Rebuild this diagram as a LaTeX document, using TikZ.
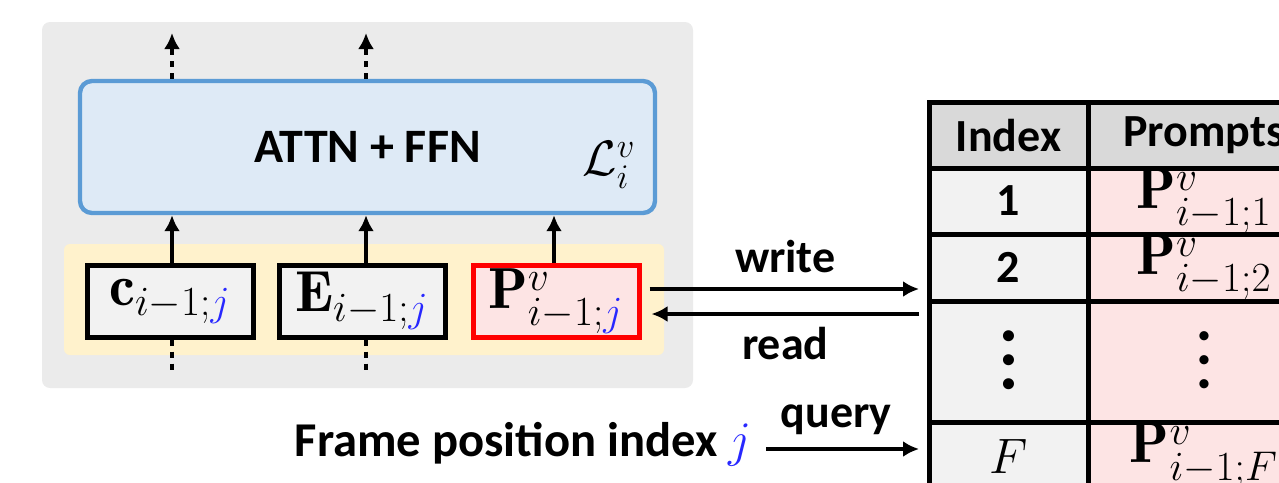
\documentclass[tikz,border=0pt]{standalone}
\usepackage{fontspec}
\setsansfont{Carlito}
\usepackage{amsmath}
\usepackage{xcolor}
\usetikzlibrary{positioning, arrows.meta, calc}

\definecolor{panelgray}{RGB}{235,235,235}
\definecolor{layerblue}{RGB}{91,155,213}
\definecolor{layerfill}{RGB}{222,234,246}
\definecolor{bandyellow}{RGB}{255,242,204}
\definecolor{boxgray}{RGB}{242,242,242}
\definecolor{headgray}{RGB}{217,217,217}
\definecolor{promptpink}{RGB}{253,228,228}
\definecolor{promptred}{RGB}{255,0,0}
\definecolor{jblue}{RGB}{40,40,255}

\newcommand{\jj}{\textcolor{jblue}{j}}
\newcommand{\tabdots}{\vbox{\sffamily\fontsize{13}{12}\selectfont\baselineskip=12pt\lineskiplimit=0pt\hbox{\textbullet}\hbox{\textbullet}\hbox{\textbullet}}}

\begin{document}
\begin{tikzpicture}[
    x=0.5pt, y=-0.5pt,
    >={Latex[length=8pt,width=8pt]},
    boldtext/.style={font=\sffamily\bfseries\fontsize{23}{27}\selectfont},
    mathtext/.style={font=\fontsize{29}{32}\selectfont},
    lbl/.style={boldtext, inner sep=2pt},
    panel/.style={
        rectangle,
        fill=panelgray,
        rounded corners=4pt,
        minimum width=325.5pt,
        minimum height=183pt
    },
    band/.style={
        rectangle,
        fill=bandyellow,
        rounded corners=3pt,
        minimum width=300pt,
        minimum height=55.5pt
    },
    layerbox/.style={
        rectangle,
        draw=layerblue,
        fill=layerfill,
        line width=2.2pt,
        rounded corners=6pt,
        minimum width=287.5pt,
        minimum height=66pt,
        boldtext,
        font=\sffamily\bfseries\fontsize{24}{28}\selectfont
    },
    inbox/.style={
        rectangle,
        draw=black,
        fill=boxgray,
        line width=2.5pt,
        minimum width=83pt,
        minimum height=36pt,
        inner sep=0pt,
        mathtext
    },
    promptbox/.style={inbox, draw=promptred, fill=promptpink},
    cell/.style={
        rectangle,
        draw=black,
        line width=2.5pt,
        outer sep=0pt,
        inner sep=0pt
    },
    idxcell/.style={cell, fill=boxgray, minimum width=79.5pt, boldtext},
    prmcell/.style={cell, fill=promptpink, minimum width=116pt, mathtext},
    flow/.style={->, line width=2.2pt},
    dotflow/.style={line width=2.2pt, dash pattern=on 3pt off 3pt}
]
    \useasboundingbox (0,0) rectangle (1279,482);
    \clip (0,0) rectangle (1279,482);

    % Layer block
    \node[panel] (panel) at (367.5,205) {};
    \node[layerbox] (layer) at (367.5,147) {ATTN + FFN};
    \node[font=\fontsize{23}{25}\selectfont] (lname) at (609,165) {$\mathcal{L}_i^{v}$};

    % Inputs
    \node[band] (band) at (364,299.5) {};
    \node[inbox] (cbox) at (170,301) {$\mathbf{c}_{i-1;\jj}$};
    \node[inbox, right=10.5pt of cbox] (ebox) {$\mathbf{E}_{i-1;\jj}$};
    \node[promptbox, right=11.5pt of ebox] (pbox) {$\mathbf{P}^{v}_{i-1;\jj}$};

    \draw[flow] (cbox.north -| 172,0) -- (layer.south -| 172,0);
    \draw[flow] (ebox.north -| 366,0) -- (layer.south -| 366,0);
    \draw[flow] (pbox.north -| 554,0) -- (layer.south -| 554,0);

    \coordinate (ctop) at (172,33);
    \coordinate (etop) at (366,33);
    \coordinate (cbot) at (172,372);
    \coordinate (ebot) at (366,372);
    \draw[dotflow, ->] (layer.north -| ctop) -- (ctop);
    \draw[dotflow, ->] (layer.north -| etop) -- (etop);
    \draw[dotflow] (cbox.south -| cbot) -- (cbot);
    \draw[dotflow] (ebox.south -| ebot) -- (ebot);

    % Prompt table
    \node[idxcell, fill=headgray, minimum height=32.75pt, anchor=north west] (hidx) at (929,102.5) {Index};
    \node[prmcell, fill=headgray, minimum height=32.75pt, boldtext, right=0pt of hidx] (hprm) {Prompts};
    \node[idxcell, minimum height=33pt, below=0pt of hidx] (idx1) {1};
    \node[prmcell, minimum height=33pt, right=0pt of idx1] (prm1) {$\mathbf{P}^{v}_{i-1;1}$};
    \node[idxcell, minimum height=33.5pt, below=0pt of idx1] (idx2) {2};
    \node[prmcell, minimum height=33.5pt, right=0pt of idx2] (prm2) {$\mathbf{P}^{v}_{i-1;2}$};
    \node[idxcell, minimum height=60.5pt, below=0pt of idx2] (idxd) {\tabdots};
    \node[prmcell, minimum height=60.5pt, right=0pt of idxd] (prmd) {\tabdots};
    \node[idxcell, minimum height=34pt, below=0pt of idxd, mathtext] (idxF) {$F$};
    \node[prmcell, minimum height=34pt, right=0pt of idxF] (prmF) {$\mathbf{P}^{v}_{i-1;F}$};

    % Read / write
    \coordinate (wr) at ([yshift=6pt]pbox.east);
    \coordinate (rd) at ([yshift=-6.5pt]pbox.east);
    \draw[flow, shorten <=4pt, shorten >=5pt] (wr) -- (wr -| idx2.west)
        node[midway, above=5pt, lbl] (wlab) {write};
    \draw[flow, shorten <=5pt, shorten >=5pt] (rd -| idxd.west) -- (rd)
        node[midway, below=3.5pt, lbl] (rlab) {read};

    % Query
    \node[lbl, inner sep=0pt, anchor=base east,
          font=\sffamily\bfseries\fontsize{24.3}{28}\selectfont] (frame) at (752,456) {Frame position index $\jj$};
    \coordinate (qs) at (766,449);
    \draw[flow, shorten >=5pt] (qs) -- (qs -| idxF.west)
        node[pos=0.43, above=4pt, lbl] (qlab) {query};
\end{tikzpicture}
\end{document}
